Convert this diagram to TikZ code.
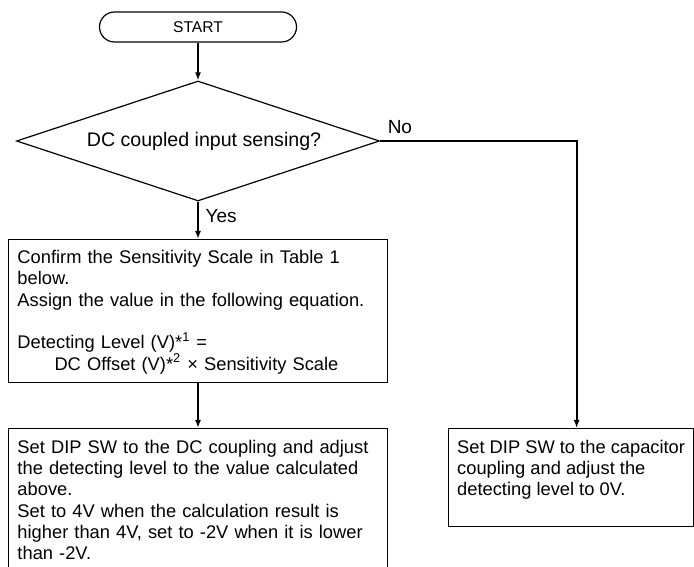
\documentclass[tikz,border=0pt]{standalone}
\usepackage{fontspec}
\setmainfont{Liberation Sans}
\usetikzlibrary{arrows.meta,shapes.geometric}

\begin{document}
\begin{tikzpicture}[x=0.5pt,y=0.5pt,
    box/.style={draw,line width=0.6pt,align=left,inner xsep=4.5pt,inner ysep=0pt,font=\fontsize{9.15}{10.65}\selectfont},
    flow/.style={line width=1pt,-{Latex[length=4pt,width=3pt]}},
    lbl/.style={font=\fontsize{9.5}{11}\selectfont}]
                 \useasboundingbox(0,0)rectangle(694,566);
                 \clip(0,0)rectangle(694,566);
                 \node[draw,line width=0.6pt,rounded corners=7.5pt,minimum width=98.5pt,minimum height=15pt,inner sep=0pt,font=\fontsize{7.8}{9}\selectfont](start)at(198,539){START};
                 \node[draw,diamond,aspect=3,line width=0.6pt,minimum width=181.5pt,minimum height=60pt,inner sep=0pt,font=\fontsize{9.8}{11}\selectfont](dec)at(198,425){\hspace*{6pt}DC coupled input sensing?};
                 \node[box,anchor=north,text width=180.5pt,text height=12pt,text depth=59.5pt](calc)at(198,327){Confirm the Sensitivity Scale in Table 1\\below.\\Assign the value in the following equation.\\[10.65pt]Detecting Level (V)*\textsuperscript{1} =\\\hspace*{18.5pt}DC Offset (V)*\textsuperscript{2} × Sensitivity Scale};
                 \node[box,anchor=north,text width=180.5pt,text height=12.35pt,text depth=70pt](setdc)at(198,138){Set DIP SW to the DC coupling and adjust\\the detecting level to the value calculated\\above.\\Set to 4V when the calculation result is\\higher than 4V, set to -2V when it is lower\\than -2V.};
                 \node[box,anchor=north west,minimum width=122.5pt,inner xsep=0pt,text height=33.65pt,text depth=15.35pt](setcap)at(448,138){Set DIP SW to the capacitor\\coupling and adjust the\\detecting level to 0V.};
                 \draw[flow](start)--(dec);
                 \draw[flow](dec)--node[lbl,right,pos=0.4]{Yes}(calc);
                 \draw[flow](calc)--(setdc);
                 \draw[flow](dec.east)-|node[lbl,above right,pos=0]{No}([xshift=2.75pt]setcap.north);
               \end{tikzpicture}
\end{document}
